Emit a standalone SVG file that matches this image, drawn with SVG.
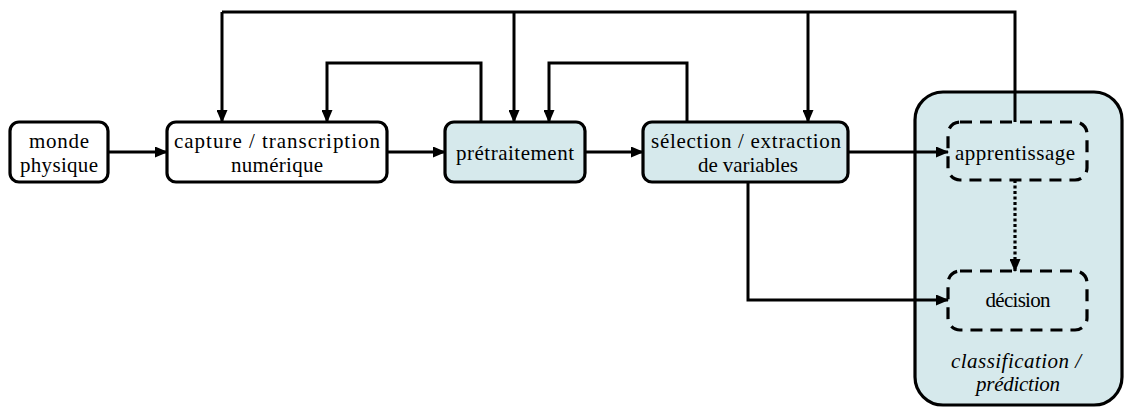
<svg xmlns="http://www.w3.org/2000/svg" width="1125" height="409" viewBox="0 0 1125 409">
  <defs>
    <marker id="arrow" markerWidth="13" markerHeight="11" refX="12" refY="5.5" orient="auto" markerUnits="userSpaceOnUse">
      <path d="M0,0 L13,5.5 L0,11 Z" fill="#000"/>
    </marker>
    <style>
      .box { fill: #ffffff; stroke: #000; stroke-width: 3.2; }
      .blue { fill: #d6e9ec; }
      .dash { fill: none; stroke: #000; stroke-width: 3.2; stroke-dasharray: 12 8; }
      .wire { fill: none; stroke: #000; stroke-width: 3; }
      .dots { fill: none; stroke: #000; stroke-width: 3.2; stroke-dasharray: 3 2.5; }
    </style>
  </defs>

  <rect width="1125" height="409" fill="#ffffff"/>

  <!-- classification / prediction stage -->
  <g id="classification">
    <rect class="box blue" x="915" y="92" width="207" height="313" rx="28"/>
    <text style="font-family:'Liberation Serif',serif;font-size:21px;font-style:italic" text-anchor="middle" x="1016" y="368" textLength="130" lengthAdjust="spacing">classification /</text>
    <text style="font-family:'Liberation Serif',serif;font-size:21px;font-style:italic" text-anchor="middle" x="1018" y="391" textLength="84" lengthAdjust="spacing">prédiction</text>
  </g>

  <g id="monde">
    <rect class="box" x="10" y="122" width="98" height="60" rx="9"/>
    <text style="font-family:'Liberation Serif',serif;font-size:21px" text-anchor="middle" x="59" y="148" textLength="60" lengthAdjust="spacing">monde</text>
    <text style="font-family:'Liberation Serif',serif;font-size:21px" text-anchor="middle" x="59" y="172" textLength="78" lengthAdjust="spacing">physique</text>
  </g>

  <g id="capture">
    <rect class="box" x="167" y="122" width="220" height="60" rx="9"/>
    <text style="font-family:'Liberation Serif',serif;font-size:21px" text-anchor="middle" x="277" y="148" textLength="206" lengthAdjust="spacing">capture / transcription</text>
    <text style="font-family:'Liberation Serif',serif;font-size:21px" text-anchor="middle" x="277" y="172" textLength="92" lengthAdjust="spacing">numérique</text>
  </g>

  <g id="pretraitement">
    <rect class="box blue" x="445" y="122" width="140" height="60" rx="9"/>
    <text style="font-family:'Liberation Serif',serif;font-size:21px" text-anchor="middle" x="515" y="160" textLength="118" lengthAdjust="spacing">prétraitement</text>
  </g>

  <g id="selection">
    <rect class="box blue" x="643" y="122" width="205" height="60" rx="9"/>
    <text style="font-family:'Liberation Serif',serif;font-size:21px" text-anchor="middle" x="746" y="148" textLength="190" lengthAdjust="spacing">sélection / extraction</text>
    <text style="font-family:'Liberation Serif',serif;font-size:21px" text-anchor="middle" x="748" y="172" textLength="100" lengthAdjust="spacing">de variables</text>
  </g>

  <g id="apprentissage">
    <rect class="dash" x="948" y="122" width="139" height="58" rx="12"/>
    <text style="font-family:'Liberation Serif',serif;font-size:21px" text-anchor="middle" x="1015" y="160" textLength="120" lengthAdjust="spacing">apprentissage</text>
  </g>

  <g id="decision">
    <rect class="dash" x="948" y="271" width="139" height="59" rx="12"/>
    <text style="font-family:'Liberation Serif',serif;font-size:21px" text-anchor="middle" x="1018" y="307" textLength="65" lengthAdjust="spacing">décision</text>
  </g>

  <g id="connectors">
    <!-- main chain -->
    <path class="wire" d="M108,152 H167" marker-end="url(#arrow)"/>
    <path class="wire" d="M387,152 H445" marker-end="url(#arrow)"/>
    <path class="wire" d="M585,152 H643" marker-end="url(#arrow)"/>
    <path class="wire" d="M848,152 H948" marker-end="url(#arrow)"/>
    <path class="wire" d="M748,182 V300 H948" marker-end="url(#arrow)"/>
    <!-- learning to decision -->
    <path class="dots" d="M1015,180 V271" marker-end="url(#arrow)"/>
    <!-- short feedback loops -->
    <path class="wire" d="M481,122 V63 H327 V122" marker-end="url(#arrow)"/>
    <path class="wire" d="M687,122 V63 H549 V122" marker-end="url(#arrow)"/>
    <!-- global feedback from learning -->
    <path class="wire" d="M1015,122 V12 H222"/>
    <path class="wire" d="M222,12 V122" marker-end="url(#arrow)"/>
    <path class="wire" d="M514,12 V122" marker-end="url(#arrow)"/>
    <path class="wire" d="M808,12 V122" marker-end="url(#arrow)"/>
  </g>
</svg>
